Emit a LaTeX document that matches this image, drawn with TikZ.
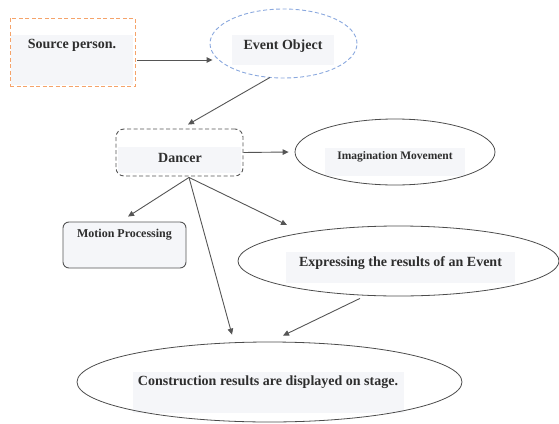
\documentclass[tikz,border=0pt]{standalone}
\usepackage{fontspec}
\setmainfont{Liberation Serif}
\usetikzlibrary{shapes.geometric,arrows.meta,calc}
\definecolor{bgfill}{HTML}{F5F6F9}
\definecolor{lineg}{HTML}{555555}
\definecolor{orangeb}{HTML}{F5A36A}
\definecolor{blueb}{HTML}{8AA8DE}
\definecolor{txt}{HTML}{2E2E2E}
\tikzset{
  conn/.style={draw=lineg, line width=0.9pt, -{Triangle[length=6pt,width=5.5pt]}},
  ell/.style={ellipse, draw=lineg!90!black, line width=0.8pt, inner sep=0pt},
  txtfill/.style={fill=bgfill, inner sep=0pt, text=txt, font=\bfseries\fontsize{14}{16}\selectfont},
}
\begin{document}
\begin{tikzpicture}[x=1pt,y=-1pt]
\useasboundingbox (0,0) rectangle (559,423);
% Source person
\fill[bgfill] (11,35) rectangle (133,85);
\node[draw=orangeb, dash pattern=on 4pt off 2.5pt, line width=0.9pt, minimum width=125pt, minimum height=68pt, inner sep=0pt] (src) at (72.5,52) {};
\node[text=txt, font=\bfseries\fontsize{14}{16}\selectfont, anchor=base] (srct) at (72,48) {Source person.};
% Event Object
\node[txtfill, minimum width=102pt, minimum height=30pt] (evf) at (283,50) {};
\node[ellipse, draw=blueb, dash pattern=on 4pt off 2.5pt, line width=0.9pt, minimum width=147pt, minimum height=69pt, inner sep=0pt] (event) at (283.5,43.5) {};
\node[text=txt, font=\bfseries\fontsize{14}{16}\selectfont, anchor=base] (evt) at (283,49) {Event Object};
% Dancer
\node[draw=lineg, dash pattern=on 4pt off 2.5pt, line width=0.9pt, rounded corners=8pt, minimum width=127pt, minimum height=47pt, inner sep=0pt] (dancer) at (179.5,152.5) {};
\fill[bgfill] (118,147) rectangle (241,173);
\node[text=txt, font=\bfseries\fontsize{14}{16}\selectfont, anchor=base] (dat) at (180,162) {Dancer};
% Imagination Movement
\fill[bgfill] (325,148) rectangle (465,176);
\node[ell, minimum width=200pt, minimum height=66pt] (imag) at (395,152) {};
\node[text=txt, font=\bfseries\fontsize{11.5}{13}\selectfont, anchor=base] (imt) at (395,159) {Imagination Movement};
% Motion Processing
\node[draw=lineg, fill=bgfill, line width=0.9pt, rounded corners=6pt, minimum width=123pt, minimum height=46pt, inner sep=0pt] (motion) at (124.5,245) {};
\node[text=txt, font=\bfseries\fontsize{12}{14}\selectfont, anchor=base] (mot) at (124.5,237) {Motion Processing};
% Expressing
\fill[bgfill] (286,252) rectangle (515,283);
\node[ell, minimum width=321pt, minimum height=70pt] (expr) at (398.5,261) {};
\node[text=txt, font=\bfseries\fontsize{14}{16}\selectfont, anchor=base] (ext) at (400.5,266) {Expressing the results of an Event};
% Construction
\fill[bgfill] (133,372) rectangle (404,413);
\node[ell, minimum width=385pt, minimum height=80pt] (constr) at (269.5,382) {};
\node[text=txt, font=\bfseries\fontsize{14}{16}\selectfont, anchor=base] (cot) at (268,385) {Construction results are displayed on stage.};
% connectors
\draw[conn] ($(src.east)+(2,8)$) -- ($(event.west)+(3,16.5)$);
\draw[conn] ($(event.south)+(-13.5,-1)$) -- ($(dancer.north)+(8.5,-4)$);
\draw[conn] (dancer.east) -- ($(imag.west)+(-6,0)$);
\draw[conn] ($(dancer.south)+(9.5,1)$) -- ($(motion.north)+(3.5,-5)$);
\draw[conn] ($(dancer.south)+(9.5,1)$) -- ($(expr.center)+(-111.5,-36)$);
\draw[conn] ($(dancer.south)+(9.5,1)$) -- ($(constr.north)+(-37.5,-7)$);
\draw[conn] ($(expr.south)+(-38.5,2)$) -- ($(constr.north)+(13.5,-6)$);
\end{tikzpicture}
\end{document}
